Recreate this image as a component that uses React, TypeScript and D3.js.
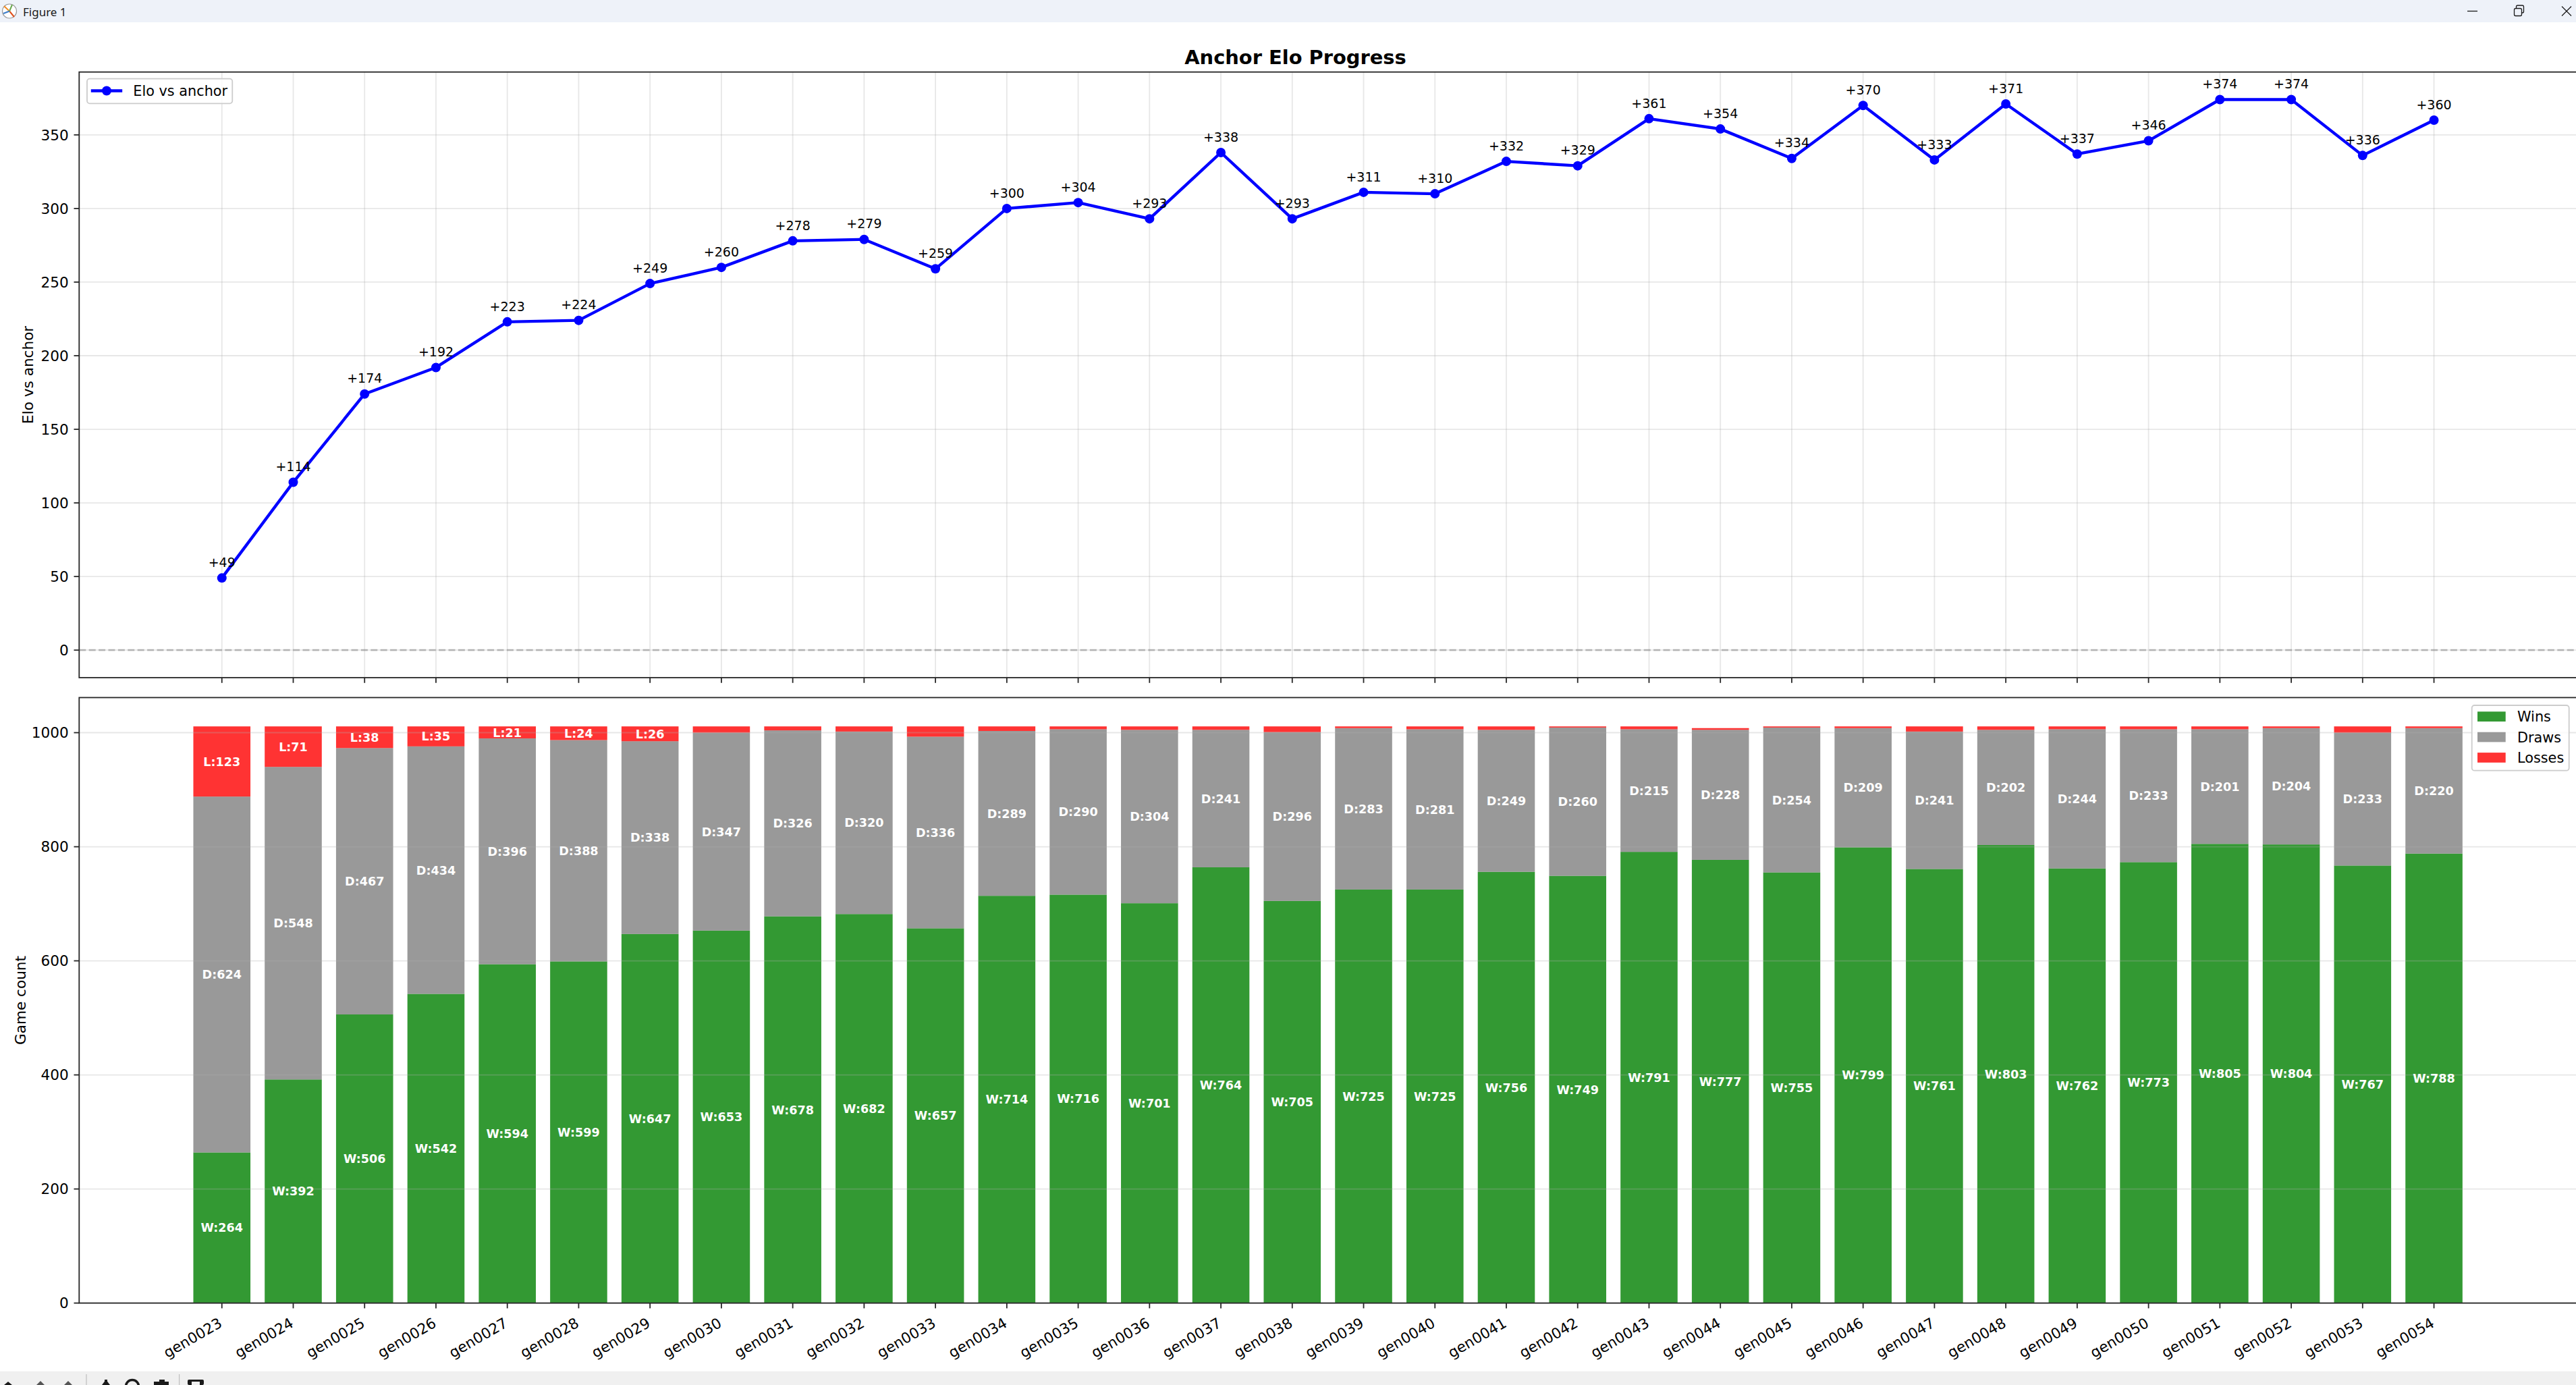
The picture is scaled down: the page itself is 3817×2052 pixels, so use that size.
import React, { useEffect } from 'react';
import * as d3 from 'd3';

// ---------------- data ----------------
const generations = [
  'gen0023', 'gen0024', 'gen0025', 'gen0026', 'gen0027', 'gen0028', 'gen0029', 'gen0030',
  'gen0031', 'gen0032', 'gen0033', 'gen0034', 'gen0035', 'gen0036', 'gen0037', 'gen0038',
  'gen0039', 'gen0040', 'gen0041', 'gen0042', 'gen0043', 'gen0044', 'gen0045', 'gen0046',
  'gen0047', 'gen0048', 'gen0049', 'gen0050', 'gen0051', 'gen0052', 'gen0053', 'gen0054',
];
const eloValues = [
  49, 114, 174, 192, 223, 224, 249, 260, 278, 279, 259, 300, 304, 293, 338, 293,
  311, 310, 332, 329, 361, 354, 334, 370, 333, 371, 337, 346, 374, 374, 336, 360,
];
const wins = [
  264, 392, 506, 542, 594, 599, 647, 653, 678, 682, 657, 714, 716, 701, 764, 705,
  725, 725, 756, 749, 791, 777, 755, 799, 761, 803, 762, 773, 805, 804, 767, 788,
];
const draws = [
  624, 548, 467, 434, 396, 388, 338, 347, 326, 320, 336, 289, 290, 304, 241, 296,
  283, 281, 249, 260, 215, 228, 254, 209, 241, 202, 244, 233, 201, 204, 233, 220,
];
const losses = [
  123, 71, 38, 35, 21, 24, 26, 11, 7, 9, 18, 8, 5, 6, 6, 10,
  3, 5, 6, 2, 5, 3, 2, 3, 9, 6, 5, 5, 5, 3, 11, 3,
];
const eloTicks = [0, 50, 100, 150, 200, 250, 300, 350];
const countTicks = [0, 200, 400, 600, 800, 1000];
const seriesKeys = ['wins', 'draws', 'losses'];
const seriesNames = ['Wins', 'Draws', 'Losses'];
const seriesPrefix = ['W', 'D', 'L'];
const seriesColors = ['#008000', '#808080', '#ff0000'];

// ---------------- layout ----------------
const W = 3817;
const H = 2052;
const FONT = '"DejaVu Sans", Verdana, sans-serif';
const axLeft = 117.3;
const axRight = 3818;
const top1 = 106.7;
const bot1 = 1004;
const top2 = 1033.5;
const bot2 = 1930.6;
const SPINE = '#262626';
const TICK_FS = 21.6;
const LEG_FS = 20.8;
const ANN_FS = 19;
const BAR_FS = 17.6;

export default function App() {
  useEffect(() => {
    document.body.style.margin = '0';
    document.body.style.overflow = 'hidden';
  }, []);

  const x = d3.scaleBand<string>().domain(generations).range([axLeft, axRight])
    .paddingInner(0.2).paddingOuter(1.6);
  const bw = x.bandwidth();
  const cx = (g: string) => (x(g) as number) + bw / 2;

  const eloMax = d3.max(eloValues) as number;
  const yElo = d3.scaleLinear().domain([-0.05 * eloMax, eloMax * 1.05]).range([bot1, top1]);

  const table = generations.map((g, i) => ({ gen: g, wins: wins[i], draws: draws[i], losses: losses[i] }));
  const stacked = d3.stack<any>().keys(seriesKeys)(table);
  const totalMax = d3.max(table, (d) => d.wins + d.draws + d.losses) as number;
  const yCnt = d3.scaleLinear().domain([0, totalMax * 1.05]).range([bot2, top2]);

  const line = d3.line<number>().x((_, i) => cx(generations[i])).y((v) => yElo(v));

  const gridStroke = '#b0b0b0';

  return (
    <svg width={W} height={H} viewBox={`0 0 ${W} ${H}`}
      style={{ position: 'fixed', left: 0, top: 0, background: '#fff', display: 'block' }}
      fontFamily={FONT}>
      <rect x={0} y={0} width={W} height={H} fill="#ffffff" />

      {/* window title bar */}
      <rect x={0} y={0} width={W} height={33} fill="#eef2f9" />
      <g>
        <circle cx={14} cy={16.5} r={10.5} fill="#ffffff" stroke="#9a9a9a" strokeWidth={1.2} />
        <line x1={14} y1={16.5} x2={6} y2={9} stroke="#f08a24" strokeWidth={2} />
        <line x1={14} y1={16.5} x2={21} y2={25} stroke="#e0501c" strokeWidth={2} />
        <line x1={14} y1={16.5} x2={5} y2={20} stroke="#3a7dc9" strokeWidth={2} />
        <line x1={14} y1={16.5} x2={18} y2={7} stroke="#6aa84f" strokeWidth={2} />
      </g>
      <text x={34} y={23.5} fontSize={17} fontFamily='"Noto Sans", "Open Sans", sans-serif' fill="#1a1a1a">Figure 1</text>
      <line x1={3656} y1={16.5} x2={3671} y2={16.5} stroke="#1a1a1a" strokeWidth={1.3} />
      <rect x={3725.5} y={12.5} width={11} height={11} rx={2} fill="none" stroke="#1a1a1a" strokeWidth={1.3} />
      <path d="M3728.5,12.5 v-2.5 a2,2 0 0 1 2,-2 h7 a2,2 0 0 1 2,2 v7 a2,2 0 0 1 -2,2 h-1.5" fill="none" stroke="#1a1a1a" strokeWidth={1.3} />
      <line x1={3796} y1={9.5} x2={3810} y2={23.5} stroke="#1a1a1a" strokeWidth={1.3} />
      <line x1={3810} y1={9.5} x2={3796} y2={23.5} stroke="#1a1a1a" strokeWidth={1.3} />

      {/* bottom toolbar */}
      <rect x={0} y={2031.7} width={W} height={H - 2031.7} fill="#f0f0f0" />
      <g fill="#1a1a1a">
        <path d="M6,2052 l6,-5 l6,5 z" />
        <path d="M54,2052 l6,-6 l6,6 z" fill="#555" />
        <path d="M95,2052 l6,-6 l6,6 z" fill="#555" />
        <path d="M151,2052 l6,-8 l6,8 z" />
        <rect x={155} y={2044} width={4} height={8} />
        <circle cx={196} cy={2054} r={9.5} fill="none" stroke="#1a1a1a" strokeWidth={3.5} />
        <rect x={228} y={2047} width={22} height={5} />
        <rect x={236} y={2044} width={8} height={4} />
        <rect x={278} y={2044} width={24} height={8} rx={2} />
        <rect x={284} y={2047} width={12} height={5} fill="#f0f0f0" />
      </g>
      <line x1={128} y1={2036} x2={128} y2={2052} stroke="#b4b4b4" strokeWidth={1} />
      <line x1={265.7} y1={2036} x2={265.7} y2={2052} stroke="#b4b4b4" strokeWidth={1} />

      {/* suptitle */}
      <text x={1919.5} y={95} textAnchor="middle" fontSize={28.9} fontWeight="bold" fill="#000">Anchor Elo Progress</text>

      {/* ============ TOP AXES ============ */}
      <g>
        {generations.map((g) => (
          <line key={'vg' + g} x1={cx(g)} x2={cx(g)} y1={top1} y2={bot1} stroke={gridStroke} strokeOpacity={0.3} strokeWidth={1.8} />
        ))}
        {eloTicks.map((t) => (
          <line key={'hg' + t} x1={axLeft} x2={axRight} y1={yElo(t)} y2={yElo(t)} stroke={gridStroke} strokeOpacity={0.3} strokeWidth={1.8} />
        ))}
        <line x1={axLeft} x2={axRight} y1={yElo(0)} y2={yElo(0)} stroke="#808080" strokeOpacity={0.5}
          strokeWidth={2.7} strokeDasharray="10 4.4" />
        <path d={line(eloValues) as string} fill="none" stroke="#0000ff" strokeWidth={4.4} strokeLinejoin="round" />
        {eloValues.map((v, i) => (
          <circle key={'m' + i} cx={cx(generations[i])} cy={yElo(v)} r={7} fill="#0000ff" />
        ))}
        {eloValues.map((v, i) => (
          <text key={'a' + i} x={cx(generations[i])} y={yElo(v) - 16.3} textAnchor="middle" fontSize={ANN_FS} fill="#000">
            {`+${v}`}
          </text>
        ))}
        {/* y ticks */}
        {eloTicks.map((t) => (
          <g key={'yt' + t}>
            <line x1={axLeft - 7.8} x2={axLeft} y1={yElo(t)} y2={yElo(t)} stroke={SPINE} strokeWidth={1.8} />
            <text x={axLeft - 15.6} y={yElo(t) + 0.365 * TICK_FS} textAnchor="end" fontSize={TICK_FS} fill="#000">{t}</text>
          </g>
        ))}
        {/* x tick marks (no labels) */}
        {generations.map((g) => (
          <line key={'xt1' + g} x1={cx(g)} x2={cx(g)} y1={bot1} y2={bot1 + 7.8} stroke={SPINE} strokeWidth={1.8} />
        ))}
        <rect x={axLeft} y={top1} width={axRight - axLeft} height={bot1 - top1} fill="none" stroke={SPINE} strokeWidth={1.8} />
        <text transform={`translate(49, ${(top1 + bot1) / 2}) rotate(-90)`} textAnchor="middle" fontSize={TICK_FS} fill="#000">Elo vs anchor</text>
        {/* legend */}
        <rect x={129} y={116.7} width={215.3} height={36.6} rx={4} fill="#ffffff" fillOpacity={0.8} stroke="#cccccc" strokeWidth={1.8} />
        <line x1={137} x2={179} y1={134.5} y2={134.5} stroke="#0000ff" strokeWidth={4.4} strokeLinecap="square" />
        <circle cx={158} cy={134.5} r={7} fill="#0000ff" />
        <text x={197.3} y={142.3} fontSize={LEG_FS} fill="#000">Elo vs anchor</text>
      </g>

      {/* ============ BOTTOM AXES ============ */}
      <g>
        {stacked.map((layer, si) => (
          <g key={'layer' + si} fill={seriesColors[si]} fillOpacity={0.8}>
            {layer.map((d: any, i: number) => (
              <rect key={i} x={x(generations[i])} width={bw} y={yCnt(d[1])} height={yCnt(d[0]) - yCnt(d[1])} />
            ))}
          </g>
        ))}
        {countTicks.map((t) => (
          <line key={'cg' + t} x1={axLeft} x2={axRight} y1={yCnt(t)} y2={yCnt(t)} stroke={gridStroke} strokeOpacity={0.3} strokeWidth={1.8} />
        ))}
        {stacked.map((layer, si) => (
          <g key={'lab' + si}>
            {layer.map((d: any, i: number) => {
              const v = d[1] - d[0];
              if (v < 20) return null;
              return (
                <text key={i} x={cx(generations[i])} y={yCnt((d[0] + d[1]) / 2) + 0.365 * BAR_FS} textAnchor="middle"
                  fontSize={BAR_FS} fontWeight="bold" fill="#ffffff">
                  {`${seriesPrefix[si]}:${v}`}
                </text>
              );
            })}
          </g>
        ))}
        {countTicks.map((t) => (
          <g key={'ct' + t}>
            <line x1={axLeft - 7.8} x2={axLeft} y1={yCnt(t)} y2={yCnt(t)} stroke={SPINE} strokeWidth={1.8} />
            <text x={axLeft - 15.6} y={yCnt(t) + 0.365 * TICK_FS} textAnchor="end" fontSize={TICK_FS} fill="#000">{t}</text>
          </g>
        ))}
        {generations.map((g) => (
          <g key={'xt2' + g}>
            <line x1={cx(g)} x2={cx(g)} y1={bot2} y2={bot2 + 7.8} stroke={SPINE} strokeWidth={1.8} />
            <text transform={`translate(${cx(g) + 2}, ${bot2 + 34}) rotate(-30)`} textAnchor="end" fontSize={TICK_FS} fill="#000">{g}</text>
          </g>
        ))}
        <rect x={axLeft} y={top2} width={axRight - axLeft} height={bot2 - top2} fill="none" stroke={SPINE} strokeWidth={1.8} />
        <text transform={`translate(38, ${(top2 + bot2) / 2}) rotate(-90)`} textAnchor="middle" fontSize={TICK_FS} fill="#000">Game count</text>
        {/* legend */}
        <rect x={3662.7} y={1045} width={144} height={96.7} rx={4} fill="#ffffff" fillOpacity={0.8} stroke="#cccccc" strokeWidth={1.8} />
        {seriesNames.map((n, i) => (
          <g key={'lg' + n}>
            <rect x={3671} y={1054.3 + i * 30.4} width={41.7} height={14.7} fill={seriesColors[i]} fillOpacity={0.8} />
            <text x={3730} y={1054.3 + i * 30.4 + 7.35 + 0.365 * LEG_FS} fontSize={LEG_FS} fill="#000">{n}</text>
          </g>
        ))}
      </g>
    </svg>
  );
}
